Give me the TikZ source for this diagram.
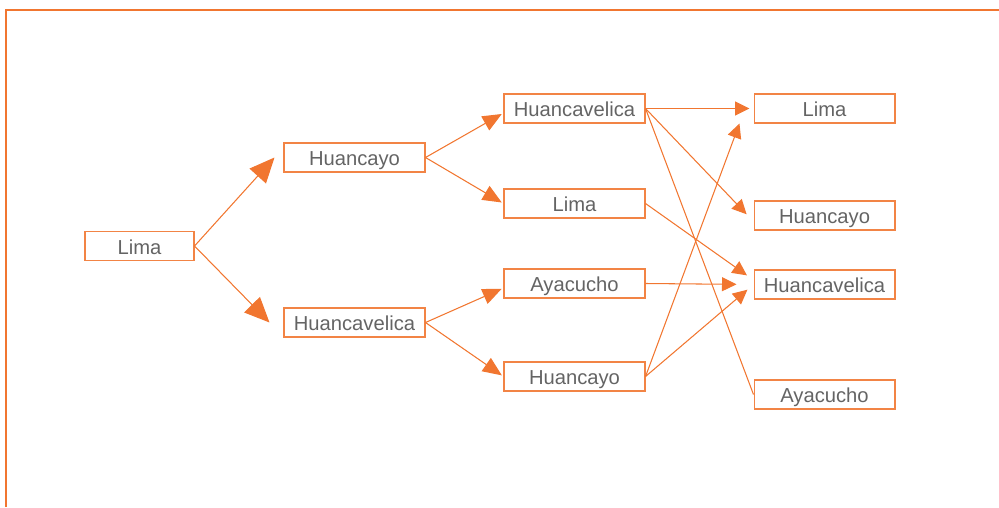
\documentclass[tikz,border=0pt]{standalone}
\usepackage{fontspec}
\setmainfont{Liberation Sans}
\usetikzlibrary{arrows.meta}
\definecolor{naranja}{RGB}{241,118,48}
\definecolor{texto}{RGB}{100,100,100}
\begin{document}
\begin{tikzpicture}[x=0.02cm,y=-0.02cm,
    caja/.style={draw=naranja!90!white,line width=0.6pt,inner sep=0pt,minimum width=2.82cm,
      minimum height=0.58cm,text height=1em,text depth=0.05em,text=texto,
      font=\fontsize{11.5}{12}\selectfont},
    flecha/.style={draw=naranja,line width=0.6pt},
    punta1/.style={flecha,-{Triangle[length=0.5cm,width=0.44cm]}},
    punta2/.style={flecha,-{Triangle[length=0.38cm,width=0.32cm]},shorten >=0.04cm},
    punta3/.style={flecha,-{Triangle[length=0.29cm,width=0.28cm]}}]
    % marco
    \useasboundingbox (0,0) rectangle (999,507);
    \draw[naranja,line width=0.9pt] (6,507) -- (6,10) -- (999,10);
    % nodos
    \node[caja,minimum width=2.18cm] (lima0) at (139.5,246) {Lima};
    \node[caja] (hyo1) at (354.5,157.5) {Huancayo};
    \node[caja] (hvc1) at (354.5,322.5) {Huancavelica};
    \node[caja] (hvc2) at (574.5,108.5) {Huancavelica};
    \node[caja] (lima2) at (574.5,203.5) {Lima};
    \node[caja] (aya2) at (574.5,283.5) {Ayacucho};
    \node[caja] (hyo2) at (574.5,376.5) {Huancayo};
    \node[caja] (lima3) at (824.5,108.5) {Lima};
    \node[caja] (hyo3) at (824.5,215.5) {Huancayo};
    \node[caja] (hvc3) at (824.5,284.5) {Huancavelica};
    \node[caja] (aya3) at (824.5,394.5) {Ayacucho};
    % primer nivel
    \draw[punta1] (lima0.east) -- ([xshift=-0.18cm]hyo1.west);
    \draw[punta1] (lima0.east) -- ([xshift=-0.28cm]hvc1.west);
    % segundo nivel
    \draw[punta2] (hyo1.east) -- ([yshift=-0.09cm]hvc2.west);
    \draw[punta2] (hyo1.east) -- (lima2.west);
    \draw[punta2] (hvc1.east) -- ([yshift=-0.09cm]aya2.west);
    \draw[punta2] (hvc1.east) -- (hyo2.west);
    % tercer nivel
    \draw[punta3,shorten >=0.08cm] (hvc2.east) -- (lima3.west);
    \draw[punta3,shorten >=0.2cm] (hvc2.east) -- ([yshift=-0.12cm]hyo3.west);
    \draw[flecha] (hvc2.east) -- (aya3.west);
    \draw[punta3,shorten >=0.16cm] (lima2.east) -- ([yshift=0.09cm]hvc3.west);
    \draw[punta3,shorten >=0.34cm] (aya2.east) -- (hvc3.west);
    \draw[punta3] (hyo2.east) -- ([xshift=-0.28cm]lima3.south west);
    \draw[punta3,shorten >=0.16cm] (hyo2.east) -- (hvc3.west);
\end{tikzpicture}
\end{document}
